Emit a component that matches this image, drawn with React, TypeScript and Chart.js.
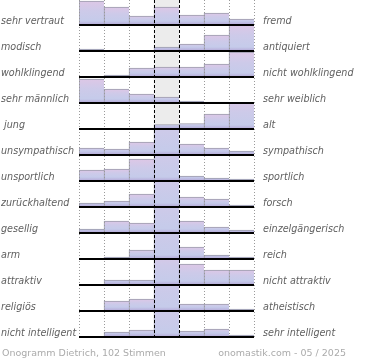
import React, { useEffect, useRef } from "react";
import { Chart, registerables } from "chart.js";

Chart.register(...registerables);

// Scale positions 1..7 (left pole -> right pole)
const CATEGORIES = ["1", "2", "3", "4", "5", "6", "7"];

const LEFT_LABELS = [
  "sehr vertraut",
  "modisch",
  "wohlklingend",
  "sehr männlich",
  " jung",
  "unsympathisch",
  "unsportlich",
  "zurückhaltend",
  "gesellig",
  "arm",
  "attraktiv",
  "religiös",
  "nicht intelligent",
];

const RIGHT_LABELS = [
  "fremd",
  "antiquiert",
  "nicht wohlklingend",
  "sehr weiblich",
  "alt",
  "sympathisch",
  "sportlich",
  "forsch",
  "einzelgängerisch",
  "reich",
  "nicht attraktiv",
  "atheistisch",
  "sehr intelligent",
];

// Share of votes per position (percent, estimated)
const VERTRAUT = [24, 18, 9, 18, 10, 12, 6];
const MODISCH = [2, 0, 0, 4, 7, 16, 27];
const WOHLKLINGEND = [0, 2, 9, 10, 10, 13, 25];
const MAENNLICH = [24, 14, 9, 6, 2, 1, 0];
const JUNG = [0, 0, 1, 4.5, 5.5, 15, 30];
const UNSYMPATHISCH = [7, 6, 13, 45, 11, 7, 4];
const UNSPORTLICH = [11, 12, 22, 40, 5, 3, 2];
const ZURUECKHALTEND = [4, 6, 13, 40, 10, 8, 2];
const GESELLIG = [4, 12, 10, 45, 12, 6, 3];
const ARM = [0, 2, 9, 50, 12, 4, 2];
const ATTRAKTIV = [0, 5, 5, 35, 21, 15, 15];
const RELIGIOES = [0, 10, 12, 45, 7, 7, 2];
const NICHT_INTELLIGENT = [0, 5, 7, 45, 6, 8, 2];

const ROWS = [
  VERTRAUT,
  MODISCH,
  WOHLKLINGEND,
  MAENNLICH,
  JUNG,
  UNSYMPATHISCH,
  UNSPORTLICH,
  ZURUECKHALTEND,
  GESELLIG,
  ARM,
  ATTRAKTIV,
  RELIGIOES,
  NICHT_INTELLIGENT,
];

const ROW = 26; // value that fills one row band
const LABEL_LIFT = 4;
const Y_MIN = 1;
const Y_MAX = ROWS.length * ROW + 1;

const LABEL_FONT = { family: "DejaVu Sans", size: 9.6, style: "italic" as const };
const LABEL_COLOR = "#606060";

function barFill(ctx: any, base: number, value: number) {
  const chart = ctx.chart;
  const y = chart.scales && chart.scales.y;
  if (!chart.chartArea || !y || value == null) return "#c6cae8";
  const yb = y.getPixelForValue(base);
  const yt = y.getPixelForValue(base - value);
  const h = Math.max(yb - yt, 1);
  const g = chart.ctx.createLinearGradient(0, yt, 0, yb);
  const strip = Math.min(4 / h, 1);
  const s = 1 - strip;
  g.addColorStop(0, "#ddc7e6");
  g.addColorStop(s * 0.5, "#cdcae9");
  g.addColorStop(s, "#c5cbea");
  g.addColorStop(1, "#b4a7d7");
  return g;
}

export default function App() {
  const ref = useRef<HTMLCanvasElement>(null);

  useEffect(() => {
    const canvas = ref.current;
    if (!canvas) return;

    const rowDatasets = ROWS.map((vals, r) => {
      const base = (r + 1) * ROW;
      return {
        type: "bar" as const,
        label: LEFT_LABELS[r],
        data: vals.map((v) => (v > 0 ? [base, base - Math.min(v, ROW)] : null)),
        backgroundColor: (ctx: any) => barFill(ctx, base, vals[ctx.dataIndex]),
        borderColor: "#9c9cac",
        borderWidth: { top: 1, left: 1, right: 0, bottom: 0 },
        borderSkipped: false,
        grouped: false,
        categoryPercentage: 1,
        barPercentage: 1,
        order: 1,
        yAxisID: "y",
      };
    });

    const neutral = {
      type: "bar" as const,
      label: "neutral",
      data: CATEGORIES.map((_, i) => (i === 3 ? [Y_MIN, Y_MAX] : null)),
      backgroundColor: "#ececec",
      borderWidth: 0,
      grouped: false,
      categoryPercentage: 1,
      barPercentage: 1,
      order: 5,
      yAxisID: "y",
    };

    const zeroPad = (s: any) => {
      s.paddingTop = 0;
      s.paddingBottom = 0;
      s.paddingLeft = 0;
      s.paddingRight = 0;
    };

    const chart = new Chart(canvas, {
      type: "bar",
      data: {
        labels: CATEGORIES,
        datasets: [...rowDatasets, neutral] as any,
      },
      options: {
        animation: false,
        responsive: false,
        devicePixelRatio: 1,
        layout: { padding: { left: 1, right: 0, top: 0, bottom: 22 } },
        plugins: { legend: { display: false }, tooltip: { enabled: false } },
        scales: {
          x: {
            type: "category",
            offset: true,
            grid: {
              offset: true,
              z: 1,
              drawTicks: false,
              lineWidth: 1,
              color: (c: any) => (c.index === 3 || c.index === 4 ? "#000000" : "#9a9a9a"),
            },
            border: {
              display: false,
              dash: (c: any) => (c.index === 3 || c.index === 4 ? [3, 2] : [1, 2]),
            },
            ticks: { display: false },
            afterFit: (s: any) => {
              s.height = 0;
              zeroPad(s);
            },
          },
          y: {
            type: "linear",
            position: "right",
            min: Y_MIN,
            max: Y_MAX,
            reverse: true,
            grid: { z: 1, color: "#000000", lineWidth: 2, drawTicks: false },
            border: { display: false },
            ticks: { display: false },
            afterBuildTicks: (s: any) => {
              s.ticks = ROWS.map((_, i) => ({ value: (i + 1) * ROW }));
            },
            afterFit: (s: any) => {
              s.width = 0;
              zeroPad(s);
            },
          },
          yl: {
            type: "linear",
            position: "left",
            min: Y_MIN,
            max: Y_MAX,
            reverse: true,
            grid: { display: false, drawTicks: false },
            border: { display: false },
            ticks: {
              autoSkip: false,
              crossAlign: "far",
              padding: 0,
              color: LABEL_COLOR,
              font: LABEL_FONT,
              callback: (_v: any, i: number) => LEFT_LABELS[i],
            },
            afterBuildTicks: (s: any) => {
              s.ticks = LEFT_LABELS.map((_, i) => ({ value: (i + 1) * ROW - LABEL_LIFT }));
            },
            afterFit: (s: any) => {
              s.width = 78;
              zeroPad(s);
            },
          },
          yr: {
            type: "linear",
            position: "right",
            min: Y_MIN,
            max: Y_MAX,
            reverse: true,
            grid: { display: false, drawTicks: false },
            border: { display: false },
            ticks: {
              autoSkip: false,
              crossAlign: "near",
              padding: 9,
              color: LABEL_COLOR,
              font: LABEL_FONT,
              callback: (_v: any, i: number) => RIGHT_LABELS[i],
            },
            afterBuildTicks: (s: any) => {
              s.ticks = RIGHT_LABELS.map((_, i) => ({ value: (i + 1) * ROW - LABEL_LIFT }));
            },
            afterFit: (s: any) => {
              s.width = 116;
              zeroPad(s);
            },
          },
        },
      } as any,
    });

    return () => chart.destroy();
  }, []);

  const footer: React.CSSProperties = {
    position: "absolute",
    top: 347,
    fontFamily: "DejaVu Sans",
    fontSize: "9.5px",
    lineHeight: "11px",
    color: "#ababab",
    whiteSpace: "nowrap",
  };

  return (
    <div style={{ position: "absolute", left: 0, top: 0, width: 370, height: 360, background: "#ffffff", overflow: "hidden" }}>
      <canvas ref={ref} width={370} height={360} style={{ display: "block", width: 370, height: 360 }} />
      <div style={{ ...footer, left: 2 }}>Onogramm Dietrich, 102 Stimmen</div>
      <div style={{ ...footer, right: 24, textAlign: "right" }}>onomastik.com - 05 / 2025</div>
    </div>
  );
}
